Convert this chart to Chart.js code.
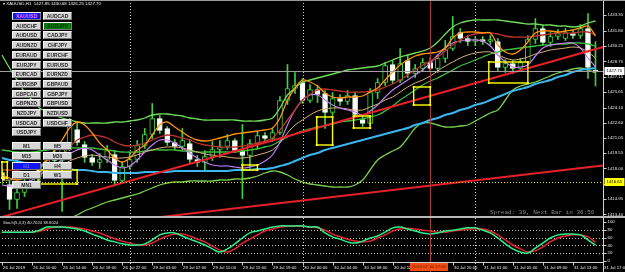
<!DOCTYPE html>
<html>
<head>
<meta charset="utf-8">
<script src="https://cdn.jsdelivr.net/npm/chart.js@4.4.0/dist/chart.umd.min.js"></script>
<style>
  html, body { margin: 0; padding: 0; background: #000; overflow: hidden; }
  #wrap { position: relative; width: 625px; height: 272px; background: #000; font-family: "Liberation Sans", Arial, sans-serif; }
  #main-chart { position: absolute; left: 0; top: 0; }
  #stoch-chart { position: absolute; left: 0; top: 218px; }
  .top-line { position: absolute; left: 0; top: 0; width: 625px; height: 1px; background: #9a9a9a; }
  .separator { position: absolute; left: 0; top: 216px; width: 625px; height: 2px; background: #b8b8b8; }
  .title { position: absolute; left: 3px; top: 1px; font-size: 4.4px; color: #f0f0f0; white-space: nowrap; }
  .spread { position: absolute; left: 490px; top: 209px; font: 6px "Liberation Mono", monospace; color: #8a8a8a; white-space: nowrap; }
  .stoch-title { position: absolute; left: 3px; top: 220px; font-size: 4.2px; color: #e0e0e0; white-space: nowrap; }
  .time-box { position: absolute; left: 410px; top: 263px; width: 38px; height: 8px; background: #f04c14; color: #7a1500; font-size: 4.4px; line-height: 8px; text-align: center; }
  .btn { position: absolute; width: 27px; height: 6px; background: #d6d6d6; border-top: 1px solid #f6f6f6; border-left: 1px solid #f6f6f6; border-right: 1px solid #7a7a7a; border-bottom: 1px solid #7a7a7a; color: #262626; font-weight: bold; font-size: 5px; line-height: 6px; text-align: center; }
  .btn.sel { background: #1414f0; color: #e07cff; }
  .btn.tf { background: #1414f0; color: #6a6aff; }
  .btn.alt { background: #0b760b; color: #0d3a0d; }
</style>
</head>
<body>
<div id="wrap">
  <canvas id="main-chart" width="625" height="217"></canvas>
  <canvas id="stoch-chart" width="625" height="54"></canvas>
  <div class="top-line"></div>
  <div class="separator"></div>
  <div class="title">▾ XAUUSD,H1&nbsp; 1427.85 1430.68 1426.25 1427.70</div>
  <div class="spread">Spread: 39, Next Bar in 36:56</div>
  <div class="stoch-title">Stoch(5,3,3) 40.7024 38.8024</div>
  <div class="time-box">2019.07.30 17:00</div>
  <div id="buttons"></div>
</div>
<script>
// time axis
const tickLabels = [
  "26 Jul 2019", "26 Jul 10:00", "26 Jul 14:00", "26 Jul 18:00", "26 Jul 22:00",
  "29 Jul 03:00", "29 Jul 07:00", "29 Jul 11:00", "29 Jul 15:00", "29 Jul 19:00",
  "30 Jul 00:00", "30 Jul 04:00", "30 Jul 08:00", "30 Jul 12:00", "30 Jul 16:00",
  "30 Jul 20:00", "31 Jul 01:00", "31 Jul 05:00", "31 Jul 09:00", "31 Jul 13:00",
  "31 Jul 17:00",
];
const tickStep = 4;
const barCount = 81;

// XAUUSD H1 candles
const open = [
  1417.6, 1416.4, 1414.9, 1415.6, 1416.6, 1417.2, 1418.2, 1419.3, 1418.8, 1420.1,
  1421.9, 1420.4, 1419.1, 1418.6, 1418.9, 1419.4, 1416.8, 1418.2, 1418.9, 1420.3,
  1421.4, 1423.0, 1422.0, 1420.6, 1420.2, 1420.5, 1418.9, 1418.6, 1419.2, 1419.9,
  1420.2, 1420.8, 1419.8, 1419.3, 1420.5, 1421.3, 1421.0, 1421.6, 1424.8, 1426.0,
  1426.6, 1424.8, 1425.9, 1425.5, 1423.6, 1425.0, 1424.7, 1425.3, 1422.9, 1422.5,
  1425.6, 1426.6, 1428.4, 1426.8, 1428.8, 1427.5, 1428.0, 1428.6, 1428.0, 1429.0,
  1430.0, 1431.6, 1431.0, 1430.7, 1430.9, 1430.7, 1430.7, 1428.1, 1428.5, 1428.0,
  1428.6, 1430.9, 1432.0, 1430.6, 1431.2, 1431.0, 1431.5, 1431.3, 1432.0, 1427.85,
];
const high = [
  1418.0, 1416.8, 1416.0, 1417.0, 1417.6, 1418.5, 1419.6, 1420.2, 1420.5, 1423.0,
  1422.6, 1420.7, 1419.4, 1419.5, 1420.3, 1419.8, 1418.6, 1419.6, 1420.8, 1422.0,
  1424.5, 1423.3, 1422.2, 1420.9, 1422.0, 1420.9, 1419.3, 1419.8, 1420.7, 1420.8,
  1421.4, 1421.0, 1422.4, 1420.9, 1421.7, 1421.6, 1422.0, 1425.2, 1428.4, 1427.6,
  1427.0, 1426.4, 1426.3, 1425.8, 1425.6, 1425.4, 1425.8, 1425.6, 1423.4, 1426.0,
  1427.0, 1428.6, 1428.8, 1430.0, 1429.3, 1428.4, 1429.0, 1429.1, 1429.4, 1430.8,
  1433.2, 1432.0, 1431.3, 1431.2, 1431.2, 1431.3, 1431.0, 1428.9, 1428.8, 1429.0,
  1431.3, 1433.0, 1432.3, 1431.6, 1431.9, 1432.0, 1431.8, 1432.4, 1433.5, 1430.68,
];
const low = [
  1416.4, 1413.9, 1414.0, 1415.2, 1416.0, 1416.8, 1417.8, 1418.4, 1413.7, 1419.8,
  1420.3, 1418.6, 1418.3, 1418.0, 1418.6, 1416.4, 1416.5, 1417.9, 1418.6, 1420.0,
  1421.0, 1421.5, 1420.3, 1419.9, 1419.8, 1418.6, 1418.2, 1417.7, 1418.8, 1419.1,
  1419.9, 1419.6, 1415.0, 1418.0, 1420.0, 1420.6, 1420.7, 1421.4, 1424.4, 1425.5,
  1424.5, 1424.6, 1424.6, 1422.0, 1423.3, 1424.3, 1424.4, 1423.1, 1422.2, 1422.3,
  1425.0, 1426.3, 1426.5, 1426.6, 1427.1, 1427.1, 1427.7, 1427.7, 1427.6, 1428.6,
  1429.8, 1430.6, 1430.3, 1430.3, 1430.4, 1430.4, 1427.8, 1427.6, 1427.5, 1427.8,
  1428.4, 1430.5, 1430.3, 1430.2, 1430.9, 1430.8, 1431.0, 1431.0, 1427.0, 1426.25,
];
const close = [
  1416.8, 1414.9, 1415.6, 1416.6, 1417.2, 1418.2, 1419.3, 1418.8, 1420.1, 1422.4,
  1420.6, 1419.1, 1418.6, 1418.9, 1419.8, 1416.8, 1418.2, 1418.9, 1420.3, 1421.4,
  1423.0, 1421.8, 1420.6, 1420.2, 1420.8, 1418.9, 1418.6, 1419.2, 1419.9, 1420.2,
  1420.8, 1419.8, 1419.3, 1420.5, 1421.3, 1421.0, 1421.6, 1424.8, 1426.0, 1426.3,
  1424.8, 1425.9, 1425.4, 1423.6, 1425.0, 1424.7, 1425.3, 1423.4, 1422.5, 1425.6,
  1426.6, 1428.3, 1426.8, 1428.5, 1427.5, 1428.0, 1428.6, 1428.0, 1429.0, 1429.9,
  1431.2, 1431.0, 1430.7, 1430.9, 1430.7, 1430.9, 1428.1, 1428.5, 1428.0, 1428.6,
  1430.9, 1432.0, 1430.6, 1431.2, 1431.5, 1431.6, 1431.3, 1432.0, 1428.1, 1427.70,
];

// indicator lines
const maOrange = [
  1417.35, 1417.05, 1416.85, 1417.05, 1417.35, 1418.05, 1418.85, 1419.85, 1420.85, 1422.05,
  1422.65, 1422.35, 1421.55, 1420.55, 1419.85, 1419.05, 1418.65, 1419.05, 1419.85, 1420.35,
  1421.35, 1422.35, 1422.65, 1422.15, 1421.65, 1421.15, 1420.85, 1420.75, 1420.85, 1421.05,
  1421.25, 1421.45, 1421.55, 1421.65, 1421.75, 1421.85, 1422.05, 1423.05, 1424.85, 1426.05,
  1426.85, 1426.65, 1426.25, 1425.55, 1425.15, 1425.05, 1425.15, 1425.15, 1425.25, 1425.65,
  1426.05, 1426.85, 1427.65, 1428.35, 1428.85, 1429.25, 1429.45, 1429.55, 1429.65, 1430.05,
  1431.05, 1431.55, 1431.65, 1431.65, 1431.55, 1431.55, 1430.35, 1429.65, 1429.45, 1429.85,
  1430.65, 1431.55, 1431.75, 1431.75, 1431.65, 1431.75, 1431.85, 1432.05, 1432.25, 1431.25,
];
const maMaroon = [
  1417.85, 1417.85, 1417.85, 1417.95, 1418.05, 1418.35, 1418.75, 1419.05, 1419.35, 1420.15,
  1420.85, 1421.15, 1421.35, 1421.25, 1421.05, 1420.65, 1420.35, 1420.25, 1420.35, 1420.55,
  1420.85, 1421.15, 1421.35, 1421.25, 1421.05, 1420.85, 1420.55, 1420.35, 1420.25, 1420.15,
  1420.15, 1420.15, 1420.25, 1420.35, 1420.55, 1420.75, 1421.05, 1421.85, 1422.85, 1423.85,
  1424.85, 1425.45, 1425.85, 1425.95, 1425.85, 1425.75, 1425.65, 1425.65, 1425.65, 1425.75,
  1425.85, 1426.15, 1426.45, 1426.85, 1427.35, 1427.85, 1428.35, 1428.75, 1429.15, 1429.75,
  1430.35, 1430.85, 1431.25, 1431.45, 1431.55, 1431.55, 1431.45, 1431.25, 1431.15, 1431.15,
  1431.15, 1431.25, 1431.35, 1431.45, 1431.55, 1431.55, 1431.55, 1431.65, 1431.65, 1431.35,
];
const maViolet = [
  1416.35, 1416.25, 1416.25, 1416.55, 1416.85, 1417.35, 1417.85, 1418.35, 1418.85, 1419.45,
  1419.85, 1420.05, 1419.85, 1419.35, 1418.85, 1418.35, 1418.05, 1418.25, 1418.85, 1419.65,
  1420.35, 1420.85, 1420.85, 1420.55, 1420.05, 1419.55, 1419.05, 1418.65, 1418.35, 1418.25,
  1418.25, 1418.15, 1418.05, 1418.15, 1418.35, 1418.75, 1419.35, 1420.65, 1422.35, 1423.85,
  1424.85, 1425.35, 1425.35, 1424.85, 1424.35, 1424.05, 1423.85, 1423.65, 1423.35, 1423.75,
  1424.35, 1425.15, 1425.85, 1426.35, 1426.85, 1427.35, 1427.85, 1428.55, 1429.35, 1430.05,
  1430.55, 1430.75, 1430.85, 1430.85, 1430.75, 1430.25, 1429.35, 1428.65, 1428.15, 1428.15,
  1428.35, 1429.25, 1430.05, 1430.35, 1430.45, 1430.55, 1430.55, 1430.05, 1429.05, 1428.15,
];
const maTan = [
  1416.85, 1416.85, 1416.95, 1417.15, 1417.35, 1417.65, 1417.95, 1418.15, 1418.35, 1418.75,
  1419.05, 1419.25, 1419.35, 1419.25, 1419.15, 1419.05, 1419.05, 1419.15, 1419.35, 1419.65,
  1419.85, 1420.05, 1420.15, 1420.15, 1420.05, 1419.85, 1419.65, 1419.45, 1419.35, 1419.25,
  1419.15, 1419.05, 1419.05, 1419.15, 1419.35, 1419.55, 1419.85, 1420.55, 1421.55, 1422.35,
  1422.85, 1423.35, 1423.75, 1423.95, 1424.05, 1424.05, 1423.95, 1423.85, 1423.85, 1424.15,
  1424.45, 1424.85, 1425.15, 1425.65, 1426.15, 1426.55, 1426.85, 1427.25, 1427.75, 1428.25,
  1428.65, 1429.05, 1429.35, 1429.55, 1429.65, 1429.65, 1429.35, 1429.05, 1428.85, 1428.95,
  1429.15, 1429.45, 1429.65, 1429.85, 1429.95, 1430.05, 1430.15, 1430.05, 1429.65, 1429.05,
];
const bandUpper = [
  1429.35, 1428.05, 1426.85, 1425.65, 1424.85, 1424.05, 1423.65, 1423.35, 1423.05, 1422.85,
  1422.65, 1422.55, 1422.55, 1422.55, 1422.55, 1422.65, 1422.65, 1422.75, 1422.85, 1423.05,
  1423.35, 1423.45, 1423.45, 1423.35, 1423.25, 1423.05, 1422.95, 1422.85, 1422.85, 1422.85,
  1422.85, 1422.85, 1422.75, 1422.75, 1422.75, 1422.85, 1423.05, 1424.05, 1425.35, 1426.05,
  1426.65, 1426.85, 1427.05, 1427.25, 1427.45, 1427.65, 1427.85, 1427.95, 1428.05, 1428.15,
  1428.25, 1428.55, 1428.85, 1429.15, 1429.35, 1429.55, 1429.75, 1430.05, 1430.65, 1431.45,
  1432.15, 1432.55, 1432.75, 1432.85, 1432.85, 1432.85, 1432.85, 1432.75, 1432.65, 1432.55,
  1432.45, 1432.45, 1432.35, 1432.35, 1432.25, 1432.25, 1432.15, 1432.25, 1432.55, 1432.75,
];
const bandMiddle = [
  1419.85, 1419.75, 1419.65, 1419.65, 1419.65, 1419.75, 1419.85, 1419.95, 1419.95, 1420.05,
  1420.05, 1420.05, 1420.05, 1419.95, 1419.85, 1419.75, 1419.65, 1419.65, 1419.65, 1419.75,
  1419.85, 1419.85, 1419.85, 1419.85, 1419.75, 1419.75, 1419.65, 1419.65, 1419.65, 1419.65,
  1419.65, 1419.65, 1419.75, 1419.85, 1419.95, 1420.15, 1420.35, 1420.75, 1421.15, 1421.45,
  1421.75, 1421.95, 1422.15, 1422.25, 1422.45, 1422.65, 1422.75, 1422.85, 1422.95, 1423.15,
  1423.35, 1423.75, 1424.25, 1424.85, 1425.35, 1425.85, 1426.35, 1426.75, 1427.05, 1427.45,
  1427.85, 1428.25, 1428.55, 1428.85, 1429.15, 1429.45, 1429.65, 1429.85, 1429.95, 1430.05,
  1430.15, 1430.25, 1430.35, 1430.35, 1430.45, 1430.45, 1430.55, 1430.55, 1430.45, 1430.25,
];
const bandLower = [
  1410.85, 1410.95, 1411.05, 1411.25, 1411.35, 1411.55, 1411.85, 1412.25, 1412.65, 1413.05,
  1413.35, 1413.75, 1414.05, 1414.35, 1414.65, 1414.85, 1415.05, 1415.25, 1415.45, 1415.75,
  1416.05, 1416.35, 1416.55, 1416.65, 1416.65, 1416.75, 1416.75, 1416.75, 1416.75, 1416.85,
  1416.85, 1416.95, 1416.95, 1417.05, 1417.25, 1417.55, 1417.75, 1417.65, 1417.35, 1416.95,
  1416.65, 1416.45, 1416.35, 1416.25, 1416.15, 1416.15, 1416.15, 1416.35, 1416.85, 1417.85,
  1418.85, 1419.35, 1419.75, 1420.15, 1421.05, 1422.05, 1422.55, 1422.55, 1422.35, 1422.15,
  1422.15, 1422.25, 1422.35, 1422.75, 1423.15, 1423.55, 1423.85, 1424.85, 1425.85, 1426.25,
  1426.45, 1426.65, 1426.95, 1427.25, 1427.55, 1427.75, 1427.95, 1428.05, 1427.85, 1427.55,
];
const maCyan = [
  1419.05, 1418.85, 1418.75, 1418.55, 1418.45, 1418.35, 1418.25, 1418.15, 1418.05, 1417.95,
  1417.85, 1417.85, 1417.75, 1417.65, 1417.65, 1417.55, 1417.55, 1417.55, 1417.55, 1417.65,
  1417.65, 1417.65, 1417.65, 1417.75, 1417.75, 1417.75, 1417.75, 1417.75, 1417.75, 1417.75,
  1417.75, 1417.85, 1417.85, 1417.85, 1417.95, 1417.95, 1418.05, 1418.25, 1418.45, 1418.75,
  1419.05, 1419.35, 1419.55, 1419.85, 1420.05, 1420.25, 1420.45, 1420.65, 1420.85, 1421.05,
  1421.25, 1421.45, 1421.65, 1421.85, 1422.05, 1422.35, 1422.55, 1422.85, 1423.05, 1423.35,
  1423.55, 1423.85, 1424.05, 1424.35, 1424.55, 1424.85, 1425.15, 1425.45, 1425.75, 1425.95,
  1426.15, 1426.45, 1426.65, 1426.85, 1427.15, 1427.35, 1427.65, 1427.85, 1427.95, 1428.05,
];

// Stoch(5,3,3)
const stochK = [
  74, 74, 74, 74, 74, 79, 87, 87, 87, 85,
  82, 77, 69, 62, 54, 49, 44, 41, 41, 44,
  54, 67, 72, 72, 64, 56, 49, 41, 31, 23,
  31, 44, 59, 72, 77, 82, 87, 90, 90, 90,
  90, 87, 87, 72, 62, 56, 49, 46, 51, 59,
  64, 74, 85, 87, 82, 77, 72, 69, 72, 77,
  79, 82, 85, 85, 79, 72, 59, 44, 31, 23,
  20.5, 33, 46, 59, 67, 69, 69, 67, 54, 40.7,
];
const stochD = [
  74, 74, 74, 74, 74, 76, 82, 87, 87, 87,
  85, 82, 77, 72, 64, 57, 51, 46, 41, 41,
  46, 56, 64, 69, 69, 64, 56, 49, 38, 28,
  23, 31, 46, 56, 67, 77, 82, 87, 89, 90,
  89, 87, 85, 79, 69, 62, 56, 51, 49, 51,
  59, 67, 77, 82, 84, 82, 79, 77, 74, 74,
  77, 79, 82, 82, 82, 77, 67, 54, 41, 31,
  23, 26, 36, 49, 59, 64, 67, 67, 62, 48,
];

// chart objects: [fromBar, fromPrice, toBar, toPrice]
const trendLines = [
  [0, 1413.15, 80, 1430.15],
  [0, 1411.3, 80, 1418.3],
];
// rectangles: [fromBar, toBar, topPrice, bottomPrice]
const boxes = [
  [0, 0.7, 1418.65, 1417.05],
  [4.8, 10, 1417.85, 1416.45],
  [32, 34, 1418.35, 1417.85],
  [41.9, 44, 1423.15, 1420.35],
  [46.8, 49, 1423.25, 1422.05],
  [54.8, 57, 1426.15, 1424.35],
  [64.8, 70, 1428.65, 1426.55],
];
const daySeparators = [17, 40, 63];
const cursorBar = 57;
const bidPrice = 1427.70;
const alertPrice = 1416.65;

const priceTicks = [1433.35, 1431.80, 1430.25, 1428.70, 1427.15, 1425.65, 1424.10, 1422.60, 1421.05, 1419.55, 1418.00, 1416.45, 1414.95, 1413.40];
const stochTicks = [100, 80, 60, 40, 20, 0];
const stochLevels = [80, 60, 40, 20];

const symbolButtons = [
  ["XAUUSD", "AUDCAD"], ["AUDCHF", "AUDJPY"], ["AUDUSD", "CADJPY"], ["AUDNZD", "CHFJPY"],
  ["EURAUD", "EURCHF"], ["EURJPY", "EURUSD"], ["EURCAD", "EURNZD"], ["EURGBP", "GBPAUD"],
  ["GBPCAD", "GBPJPY"], ["GBPNZD", "GBPUSD"], ["NZDJPY", "NZDUSD"], ["USDCAD", "USDCHF"],
  ["USDJPY", null],
];
const periodButtons = [["M1", "M5"], ["M15", "M30"], ["H1", "H4"], ["D1", "W1"], ["MN1", null]];

// ---- buttons panel
const buttonsEl = document.querySelector("#buttons");
function addButton(text, left, top, cls) {
  const div = document.createElement("div");
  div.className = "btn" + (cls ? " " + cls : "");
  div.style.left = left + "px";
  div.style.top = top + "px";
  div.textContent = text;
  buttonsEl.appendChild(div);
}
symbolButtons.forEach((row, r) => {
  row.forEach((name, c) => {
    if (!name) return;
    const cls = name === "XAUUSD" ? "sel" : name === "AUDJPY" ? "alt" : "";
    addButton(name, 12 + c * 31, Math.round(12 + r * 9.7), cls);
  });
});
periodButtons.forEach((row, r) => {
  row.forEach((name, c) => {
    if (!name) return;
    addButton(name, 12 + c * 31, Math.round(142 + r * 9.75), name === "H1" ? "tf" : "");
  });
});

// ---- helpers
const categories = Array.from({ length: barCount }, (_, i) =>
  i % tickStep === 0 ? tickLabels[i / tickStep] : String(i)
);
const snap = (v) => Math.round(v) + 0.5;
function hLine(ctx, x0, x1, y) {
  ctx.beginPath();
  ctx.moveTo(x0, y);
  ctx.lineTo(x1, y);
  ctx.stroke();
}
function vLine(ctx, x, y0, y1) {
  ctx.beginPath();
  ctx.moveTo(x, y0);
  ctx.lineTo(x, y1);
  ctx.stroke();
}
function drawSeparators(chart) {
  const { ctx, scales: { x } } = chart;
  ctx.save();
  ctx.strokeStyle = "#cfcfcf";
  ctx.lineWidth = 1;
  ctx.setLineDash([1, 2]);
  daySeparators.forEach((i) => vLine(ctx, snap(x.getPixelForValue(i)), 0, chart.height));
  ctx.restore();
}
function drawCursor(chart) {
  const { ctx, scales: { x } } = chart;
  ctx.save();
  ctx.strokeStyle = "#a8383c";
  ctx.lineWidth = 1;
  vLine(ctx, snap(x.getPixelForValue(cursorBar)), 0, chart.height);
  ctx.restore();
}
const axisFont = '4.3px "Liberation Sans", Arial, sans-serif';

function lineSet(label, data, color, width, order) {
  return {
    type: "line",
    label,
    data,
    borderColor: color,
    borderWidth: width,
    pointRadius: 0,
    tension: 0.35,
    fill: false,
    order,
  };
}
function trendSet(line) {
  const data = Array(barCount).fill(null);
  data[line[0]] = line[1];
  data[line[2]] = line[3];
  return {
    type: "line",
    data,
    borderColor: "#e8202a",
    borderWidth: 2,
    pointRadius: 0,
    spanGaps: true,
    order: 0,
  };
}

// ---- main chart
const mainOverlay = {
  id: "mainOverlay",
  beforeDatasetsDraw(chart) {
    drawSeparators(chart);
  },
  afterDatasetsDraw(chart) {
    const { ctx, chartArea: a, scales: { x, y } } = chart;
    drawCursor(chart);
    ctx.save();
    ctx.lineWidth = 1;
    ctx.strokeStyle = "#a0a0a0";
    hLine(ctx, 0, a.right, snap(y.getPixelForValue(bidPrice)));
    ctx.strokeStyle = "#e6e600";
    ctx.setLineDash([1, 2]);
    hLine(ctx, 0, a.right, snap(y.getPixelForValue(alertPrice)));
    ctx.setLineDash([]);
    ctx.strokeStyle = "#ffff00";
    ctx.fillStyle = "#ffff00";
    ctx.lineWidth = 1.4;
    boxes.forEach(([b0, b1, top, bottom]) => {
      const x0 = x.getPixelForValue(b0);
      const x1 = x.getPixelForValue(b1);
      const y0 = y.getPixelForValue(top);
      const y1 = y.getPixelForValue(bottom);
      ctx.strokeRect(x0, y0, x1 - x0, y1 - y0);
      [[x0, y0], [x1, y0], [x0, y1], [x1, y1]].forEach(([px, py]) => ctx.fillRect(px - 1, py - 1, 2, 2));
    });
    ctx.restore();
  },
  afterDraw(chart) {
    const { ctx, chartArea: a, scales: { y } } = chart;
    const ax = snap(a.right);
    ctx.save();
    ctx.strokeStyle = "#d0d0d0";
    ctx.lineWidth = 1;
    vLine(ctx, ax, 0, chart.height);
    ctx.font = axisFont;
    ctx.fillStyle = "#e8e8e8";
    ctx.textBaseline = "middle";
    priceTicks.forEach((p) => {
      const py = y.getPixelForValue(p);
      hLine(ctx, ax, ax + 3, snap(py));
      ctx.fillText(p.toFixed(2), ax + 4, py);
    });
    [[bidPrice, "#ffffff"], [alertPrice, "#ffff00"]].forEach(([p, bg]) => {
      const py = Math.round(y.getPixelForValue(p));
      ctx.fillStyle = bg;
      ctx.fillRect(ax + 1, py - 4, 20, 8);
      ctx.fillStyle = "#000000";
      ctx.fillText(p.toFixed(2), ax + 3, py);
    });
    ctx.restore();
  },
};

new Chart(document.querySelector("#main-chart"), {
  type: "bar",
  data: {
    labels: categories,
    datasets: [
      trendSet(trendLines[0]),
      trendSet(trendLines[1]),
      lineSet("cyan", maCyan, "#3cb6ee", 2, 1),
      lineSet("orange", maOrange, "#ff9410", 1.3, 1),
      lineSet("maroon", maMaroon, "#b8322c", 1.3, 1),
      lineSet("violet", maViolet, "#c47cf2", 1.2, 1),
      lineSet("tan", maTan, "#d9b07a", 1, 1),
      lineSet("upper", bandUpper, "#6edc5a", 1.3, 1),
      lineSet("middle", bandMiddle, "#3fbf3f", 1.3, 1),
      lineSet("lower", bandLower, "#7ad04e", 1.3, 1),
      {
        label: "body",
        data: open.map((o, i) => [o, close[i]]),
        backgroundColor: close.map((c, i) => (c < open[i] ? "#ffffff" : "#000000")),
        borderColor: close.map((c, i) => (c < open[i] ? "#e8ffe8" : "#3fd23f")),
        borderWidth: 1,
        borderSkipped: false,
        barThickness: 5,
        minBarLength: 1,
        grouped: false,
        order: 10,
      },
      {
        label: "wick",
        data: low.map((l, i) => [l, high[i]]),
        backgroundColor: "#3fd23f",
        barThickness: 1,
        grouped: false,
        order: 11,
      },
    ],
  },
  options: {
    responsive: false,
    animation: false,
    devicePixelRatio: 1,
    layout: { padding: { left: 2, right: 22, top: 8, bottom: 1 } },
    plugins: { legend: { display: false }, tooltip: { enabled: false } },
    scales: {
      x: { display: false, offset: false },
      y: { display: false, min: 1413.25, max: 1434.05 },
    },
  },
  plugins: [mainOverlay],
});

// ---- stochastic window
const stochOverlay = {
  id: "stochOverlay",
  beforeDatasetsDraw(chart) {
    const { ctx, chartArea: a, scales: { y } } = chart;
    drawSeparators(chart);
    ctx.save();
    ctx.strokeStyle = "#bdbdbd";
    ctx.lineWidth = 1;
    ctx.setLineDash([1, 2]);
    stochLevels.forEach((v) => hLine(ctx, a.left, a.right, snap(y.getPixelForValue(v))));
    ctx.restore();
  },
  afterDatasetsDraw(chart) {
    drawCursor(chart);
  },
  afterDraw(chart) {
    const { ctx, chartArea: a, scales: { x, y } } = chart;
    const ax = snap(a.right);
    const base = snap(a.bottom);
    ctx.save();
    ctx.strokeStyle = "#d0d0d0";
    ctx.lineWidth = 1;
    vLine(ctx, ax, 0, chart.height);
    hLine(ctx, 0, ax, base);
    ctx.font = axisFont;
    ctx.fillStyle = "#e8e8e8";
    ctx.textBaseline = "middle";
    stochTicks.forEach((v) => {
      const py = y.getPixelForValue(v);
      hLine(ctx, ax, ax + 3, snap(py));
      ctx.fillText(String(v), ax + 4, py);
    });
    ctx.textBaseline = "top";
    tickLabels.forEach((text, k) => {
      const px = x.getPixelForValue(k * tickStep);
      vLine(ctx, snap(px), base, base + 3);
      ctx.fillText(text, Math.round(px) + 1, base + 3);
    });
    ctx.restore();
  },
};

new Chart(document.querySelector("#stoch-chart"), {
  type: "line",
  data: {
    labels: categories,
    datasets: [
      {
        label: "%K",
        data: stochK,
        borderColor: "#2ef08a",
        borderWidth: 1.5,
        pointRadius: 0,
        tension: 0.4,
      },
      {
        label: "%D",
        data: stochD,
        borderColor: "#e5262e",
        borderWidth: 1.5,
        pointRadius: 0,
        tension: 0.4,
      },
    ],
  },
  options: {
    responsive: false,
    animation: false,
    devicePixelRatio: 1,
    layout: { padding: { left: 2, right: 22, top: 2, bottom: 10 } },
    plugins: { legend: { display: false }, tooltip: { enabled: false } },
    scales: {
      x: { display: false, offset: false },
      y: { display: false, min: -2.56, max: 105.13 },
    },
  },
  plugins: [stochOverlay],
});
</script>
</body>
</html>
